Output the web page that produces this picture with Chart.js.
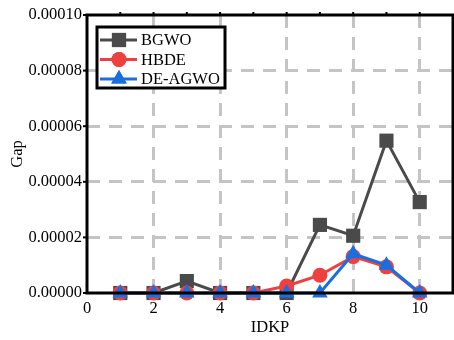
<!DOCTYPE html>
<html>
<head>
<meta charset="utf-8">
<script src="https://cdn.jsdelivr.net/npm/chart.js@4/dist/chart.umd.min.js"></script>
<style>
 html, body { margin: 0; padding: 0; background: #fff; }
 #wrap { width: 454px; height: 340px; }
</style>
</head>
<body>
<div id="wrap"><canvas id="gapChart" width="454" height="340"></canvas></div>
<script>
var idkp = [1, 2, 3, 4, 5, 6, 7, 8, 9, 10];
var bgwo = [0, 0, 0.0000043, 0, 0, 0, 0.0000245, 0.0000206, 0.0000548, 0.0000327];
var hbde = [0, 0, 0, 0, 0, 0.0000025, 0.0000064, 0.0000131, 0.0000094, 0];
var deagwo = [0, 0, 0, 0, 0, 0, 0, 0.0000141, 0.0000100, 0];
var yTicks = [0, 0.00002, 0.00004, 0.00006, 0.00008, 0.0001];

var serif = "'Liberation Serif', 'DejaVu Serif', serif";

function toPoints(values) {
 return values.map(function (v, i) {
  return { x: idkp[i], y: v };
 });
}

var seriesList = [
 { label: "BGWO", data: bgwo, color: "#4a4a4a", shape: "rect", radius: 10, order: 3 },
 { label: "HBDE", data: hbde, color: "#ef4040", shape: "circle", radius: 7.5, order: 2 },
 { label: "DE-AGWO", data: deagwo, color: "#1a6fe0", shape: "triangle", radius: 9, order: 1 },
];

// frame, outer ticks and boxed legend
var framePlugin = {
 id: "frame",
 afterDatasetsDraw: function (chart) {
  var ctx = chart.ctx;
  var a = chart.chartArea;
  var ys = chart.scales.y;
  var xs = chart.scales.x;
  ctx.save();
  ctx.strokeStyle = "#000";
  ctx.lineWidth = 3;
  ctx.strokeRect(a.left, a.top, a.right - a.left, a.bottom - a.top);

  ctx.lineWidth = 2;
  yTicks.forEach(function (t) {
   var py = ys.getPixelForValue(t);
   ctx.beginPath();
   ctx.moveTo(a.left - 4, py);
   ctx.lineTo(a.left, py);
   ctx.stroke();
  });
  for (var k = 1; k <= 10; k++) {
   var px = xs.getPixelForValue(k);
   ctx.beginPath();
   ctx.moveTo(px, a.top);
   ctx.lineTo(px, a.top - 3);
   ctx.stroke();
  }

  // legend box
  var bx = a.left + 10, by = a.top + 12, bw = 128, bh = 61;
  ctx.fillStyle = "#fff";
  ctx.fillRect(bx, by, bw, bh);
  ctx.lineWidth = 3;
  ctx.strokeStyle = "#000";
  ctx.strokeRect(bx, by, bw, bh);
  ctx.font = "16.5px " + serif;
  ctx.textBaseline = "middle";
  seriesList.forEach(function (s, i) {
   var cy = by + 13 + i * 19.5;
   ctx.strokeStyle = s.color;
   ctx.lineWidth = 3;
   ctx.beginPath();
   ctx.moveTo(bx + 3, cy);
   ctx.lineTo(bx + 40, cy);
   ctx.stroke();
   ctx.fillStyle = s.color;
   Chart.helpers.drawPoint(ctx, { pointStyle: s.shape, radius: s.radius, borderWidth: 0 }, bx + 22, cy);
   ctx.fill();
   ctx.fillStyle = "#000";
   ctx.fillText(s.label, bx + 44, cy + 1);
  });
  ctx.restore();
 },
};

new Chart(document.getElementById("gapChart"), {
 type: "line",
 data: {
  datasets: seriesList.map(function (s) {
   return {
    label: s.label,
    data: toPoints(s.data),
    borderColor: s.color,
    backgroundColor: s.color,
    borderWidth: 3,
    pointStyle: s.shape,
    pointRadius: s.radius,
    pointBorderWidth: 0,
    order: s.order,
    clip: false,
   };
  }),
 },
 options: {
  responsive: false,
  animation: false,
  events: [],
  layout: { autoPadding: false, padding: { top: 15, right: 1, left: 0, bottom: 0 } },
  plugins: {
   legend: { display: false },
   tooltip: { enabled: false },
  },
  scales: {
   x: {
    type: "linear",
    min: 0,
    max: 11,
    border: { display: false, dash: [13, 9] },
    grid: {
     color: function (c) {
      return c.tick && c.tick.value > 0 ? "#c4c4c4" : "rgba(0,0,0,0)";
     },
     lineWidth: 3,
     drawTicks: false,
    },
    ticks: {
     stepSize: 2,
     includeBounds: false,
     padding: 6,
     color: "#000",
     font: { family: serif, size: 16.5 },
    },
    title: {
     display: true,
     text: "IDKP",
     color: "#000",
     font: { family: serif, size: 16.5 },
     padding: { top: 2, bottom: 2 },
    },
    afterFit: function (scale) {
     scale.height = 47;
     scale.paddingLeft = 0;
     scale.paddingRight = 0;
    },
   },
   y: {
    min: 0,
    max: 0.0001,
    border: { display: false, dash: [13, 9] },
    grid: {
     color: function (c) {
      return c.tick && c.tick.value > 0 && c.tick.value < 0.0001 ? "#c4c4c4" : "rgba(0,0,0,0)";
     },
     lineWidth: 3,
     drawTicks: false,
    },
    ticks: {
     stepSize: 0.00002,
     padding: 5,
     color: "#000",
     font: { family: serif, size: 16.5 },
     callback: function (v) {
      return v.toFixed(5);
     },
    },
    title: {
     display: true,
     text: "Gap",
     color: "#000",
     font: { family: serif, size: 16.5 },
     padding: { top: 8, bottom: 0 },
    },
    afterFit: function (scale) {
     scale.width = 87;
     scale.paddingTop = 0;
     scale.paddingBottom = 0;
    },
   },
  },
 },
 plugins: [framePlugin],
});
</script>
</body>
</html>
